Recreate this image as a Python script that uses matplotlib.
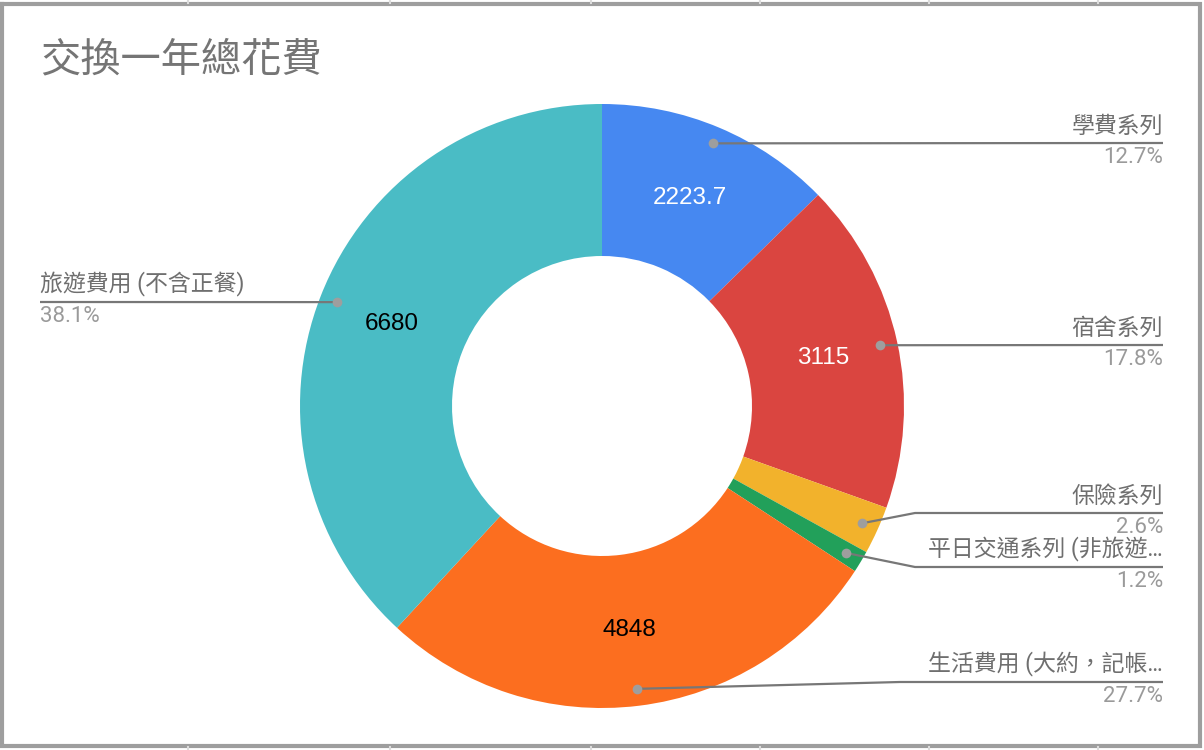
import numpy as np
import matplotlib
matplotlib.use("Agg")
import matplotlib.pyplot as plt

# data
names = ["學費系列", "宿舍系列", "保險系列", "平日交通系列 (非旅遊…",
         "生活費用 (大約，記帳…", "旅遊費用 (不含正餐)"]
values = [2223.7, 3115, 450, 205, 4848, 6680]
value_text = ["2223.7", "3115", "", "", "4848", "6680"]
colors = ["#4688F1", "#DA4540", "#F2B22C", "#22A05A", "#FC6E1F", "#4ABCC5"]
value_colors = ["white", "white", "white", "white", "black", "black"]

# label layout (image pixel y of the leader line, side)
label_y = [143, 345, 513, 567, 682, 302]
label_side = ["r", "r", "r", "r", "r", "l"]
elbow_x = [None, None, 915, 915, 900, None]

W, H = 1204, 750
cx, cy = 602, 406
R_out, R_in = 302, 150

lab_font = ["Roboto", "Noto Sans CJK TC", "DejaVu Sans"]
num_font = ["Liberation Sans", "DejaVu Sans"]

fig = plt.figure(figsize=(W / 100, H / 100), dpi=100)
ax = fig.add_axes([0, 0, 1, 1])


def Y(y):
    return H - y


wedges, _ = ax.pie(values, colors=colors, startangle=90, counterclock=False,
                   center=(cx, Y(cy)), radius=R_out,
                   wedgeprops=dict(width=R_out - R_in, linewidth=0))
ax.set_xlim(0, W)
ax.set_ylim(0, H)
ax.set_aspect("auto")
ax.axis("off")

total = sum(values)
r_mid = (R_out + R_in) / 2
for i, w in enumerate(wedges):
    ang = np.deg2rad((w.theta1 + w.theta2) / 2)
    # value label inside the ring
    if value_text[i]:
        ax.text(cx + r_mid * np.cos(ang), Y(cy) + r_mid * np.sin(ang),
                value_text[i], ha="center", va="center", fontsize=17.5,
                family=num_font, color=value_colors[i])
    # leader dot
    dx, dy = cx + 285 * np.cos(ang), Y(cy) + 285 * np.sin(ang)
    ly = Y(label_y[i])
    pct = "%.1f%%" % (values[i] / total * 100)
    if label_side[i] == "r":
        xs = [dx]
        ys = [dy]
        if elbow_x[i] is not None:
            xs.append(elbow_x[i])
            ys.append(ly)
        xs.append(1163)
        ys.append(ly)
        ax.plot(xs, ys, color="#777777", lw=1.6, solid_capstyle="butt")
        ax.text(1163, ly + 5, names[i], ha="right", va="bottom",
                fontsize=16.5, family=lab_font, color="#6f6f6f")
        ax.text(1163, ly - 4, pct, ha="right", va="top",
                fontsize=16, family=lab_font, color="#9a9a9a")
    else:
        ax.plot([dx, 40], [dy, ly], color="#777777", lw=1.6,
                solid_capstyle="butt")
        ax.text(40, ly + 5, names[i], ha="left", va="bottom",
                fontsize=16.5, family=lab_font, color="#6f6f6f")
        ax.text(40, ly - 4, pct, ha="left", va="top",
                fontsize=16, family=lab_font, color="#9a9a9a")
    ax.plot([dx], [dy], "o", color="#9e9e9e", ms=7, mec="none", zorder=5)

# title
ax.text(40, Y(60), "交換一年總花費", ha="left", va="center", fontsize=29,
        family=["Noto Sans CJK TC", "DejaVu Sans"], color="#757575")

# chart border and spreadsheet grid marks
ax.plot([2, 1200, 1200, 2, 2], [Y(4), Y(4), Y(746), Y(746), Y(4)],
        color="#9e9e9e", lw=3, solid_joinstyle="miter")
for gx in [188, 390, 591, 760, 929, 1098]:
    ax.plot([gx, gx], [Y(0), Y(3)], color="#dcdcdc", lw=1.5)
    ax.plot([gx, gx], [Y(747), Y(750)], color="#dcdcdc", lw=1.5)

fig.savefig("out.png", dpi=100, facecolor="white")
